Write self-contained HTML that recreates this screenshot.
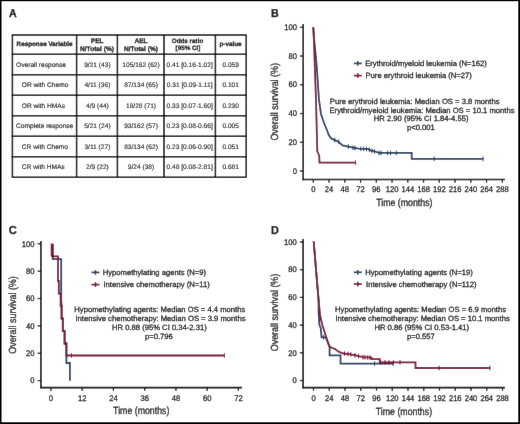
<!DOCTYPE html><html><head><meta charset="utf-8"><style>html,body{margin:0;padding:0;background:#fff}svg{display:block;text-rendering:geometricPrecision}text{font-family:"Liberation Sans",sans-serif;stroke:#111;stroke-width:0.28px}.t{fill:#222;stroke:#222;stroke-width:0.16px}</style></head><body>
<svg width="520" height="424" viewBox="0 0 520 424">
<defs><filter id="bl" x="0" y="0" width="1" height="1" filterUnits="objectBoundingBox"><feConvolveMatrix order="3" kernelMatrix="1 16 1 16 256 16 1 16 1" divisor="324" edgeMode="duplicate"/></filter></defs><g filter="url(#bl)">
<rect x="0" y="0" width="520" height="424" fill="#fff"/>
<text transform="translate(8.90,16.50) scale(0.92,1)" font-size="11.6" text-anchor="start" font-weight="bold" fill="#000">A</text>
<line x1="11.75" y1="35.10" x2="246.65" y2="35.10" stroke="#000" stroke-width="1.5"/>
<line x1="11.75" y1="54.20" x2="246.65" y2="54.20" stroke="#000" stroke-width="1.5"/>
<line x1="11.75" y1="74.72" x2="246.65" y2="74.72" stroke="#000" stroke-width="1.5"/>
<line x1="11.75" y1="95.24" x2="246.65" y2="95.24" stroke="#000" stroke-width="1.5"/>
<line x1="11.75" y1="115.76" x2="246.65" y2="115.76" stroke="#000" stroke-width="1.5"/>
<line x1="11.75" y1="136.28" x2="246.65" y2="136.28" stroke="#000" stroke-width="1.5"/>
<line x1="11.75" y1="156.80" x2="246.65" y2="156.80" stroke="#000" stroke-width="1.5"/>
<line x1="11.75" y1="177.32" x2="246.65" y2="177.32" stroke="#000" stroke-width="1.5"/>
<line x1="12.40" y1="35.10" x2="12.40" y2="177.32" stroke="#000" stroke-width="1.5"/>
<line x1="76.60" y1="35.10" x2="76.60" y2="177.32" stroke="#000" stroke-width="1.5"/>
<line x1="117.40" y1="35.10" x2="117.40" y2="177.32" stroke="#000" stroke-width="1.5"/>
<line x1="164.00" y1="35.10" x2="164.00" y2="177.32" stroke="#000" stroke-width="1.5"/>
<line x1="215.40" y1="35.10" x2="215.40" y2="177.32" stroke="#000" stroke-width="1.5"/>
<line x1="246.20" y1="35.10" x2="246.20" y2="177.32" stroke="#000" stroke-width="1.5"/>
<text x="44.60" y="46.40" font-size="6.3" text-anchor="middle" font-weight="bold" fill="#111" >Response Variable</text>
<text x="97.20" y="42.70" font-size="6.6" text-anchor="middle" font-weight="bold" fill="#111" >PEL</text>
<text x="97.00" y="50.50" font-size="6.6" text-anchor="middle" font-weight="bold" fill="#111" >N/Total (%)</text>
<text x="141.00" y="42.70" font-size="6.6" text-anchor="middle" font-weight="bold" fill="#111" >AEL</text>
<text x="141.00" y="50.50" font-size="6.6" text-anchor="middle" font-weight="bold" fill="#111" >N/Total (%)</text>
<text x="187.50" y="43.30" font-size="6.3" text-anchor="middle" font-weight="bold" fill="#111" >Odds ratio</text>
<text x="188.00" y="50.20" font-size="6.3" text-anchor="middle" font-weight="bold" fill="#111" >[95% CI]</text>
<text x="230.50" y="45.90" font-size="6.3" text-anchor="middle" font-weight="bold" fill="#111" >p-value</text>
<text x="16.10" y="66.50" font-size="6.6" text-anchor="start" font-weight="normal" fill="#111" class="t" >Overall response</text>
<text x="97.40" y="66.50" font-size="6.6" text-anchor="middle" font-weight="normal" fill="#111" class="t" >9/21 (43)</text>
<text x="141.00" y="66.50" font-size="6.6" text-anchor="middle" font-weight="normal" fill="#111" class="t" >105/162 (62)</text>
<text x="189.70" y="66.50" font-size="6.6" text-anchor="middle" font-weight="normal" fill="#111" class="t" >0.41 [0.16-1.02]</text>
<text x="230.70" y="66.50" font-size="6.6" text-anchor="middle" font-weight="normal" fill="#111" class="t" >0.059</text>
<text x="21.80" y="87.02" font-size="6.6" text-anchor="start" font-weight="normal" fill="#111" class="t" >OR with Chemo</text>
<text x="97.40" y="87.02" font-size="6.6" text-anchor="middle" font-weight="normal" fill="#111" class="t" >4/11 (36)</text>
<text x="141.00" y="87.02" font-size="6.6" text-anchor="middle" font-weight="normal" fill="#111" class="t" >87/134 (65)</text>
<text x="189.70" y="87.02" font-size="6.6" text-anchor="middle" font-weight="normal" fill="#111" class="t" >0.31 [0.09-1.11]</text>
<text x="230.70" y="87.02" font-size="6.6" text-anchor="middle" font-weight="normal" fill="#111" class="t" >0.101</text>
<text x="21.80" y="107.54" font-size="6.6" text-anchor="start" font-weight="normal" fill="#111" class="t" >OR with HMAs</text>
<text x="97.40" y="107.54" font-size="6.6" text-anchor="middle" font-weight="normal" fill="#111" class="t" >4/9 (44)</text>
<text x="141.00" y="107.54" font-size="6.6" text-anchor="middle" font-weight="normal" fill="#111" class="t" >18/28 (71)</text>
<text x="189.70" y="107.54" font-size="6.6" text-anchor="middle" font-weight="normal" fill="#111" class="t" >0.33 [0.07-1.60]</text>
<text x="230.70" y="107.54" font-size="6.6" text-anchor="middle" font-weight="normal" fill="#111" class="t" >0.230</text>
<text x="16.10" y="128.06" font-size="6.6" text-anchor="start" font-weight="normal" fill="#111" class="t" >Complete response</text>
<text x="97.40" y="128.06" font-size="6.6" text-anchor="middle" font-weight="normal" fill="#111" class="t" >5/21 (24)</text>
<text x="141.00" y="128.06" font-size="6.6" text-anchor="middle" font-weight="normal" fill="#111" class="t" >93/162 (57)</text>
<text x="189.70" y="128.06" font-size="6.6" text-anchor="middle" font-weight="normal" fill="#111" class="t" >0.23 [0.08-0.66]</text>
<text x="230.70" y="128.06" font-size="6.6" text-anchor="middle" font-weight="normal" fill="#111" class="t" >0.005</text>
<text x="21.80" y="148.58" font-size="6.6" text-anchor="start" font-weight="normal" fill="#111" class="t" >CR with Chemo</text>
<text x="97.40" y="148.58" font-size="6.6" text-anchor="middle" font-weight="normal" fill="#111" class="t" >3/11 (27)</text>
<text x="141.00" y="148.58" font-size="6.6" text-anchor="middle" font-weight="normal" fill="#111" class="t" >83/134 (62)</text>
<text x="189.70" y="148.58" font-size="6.6" text-anchor="middle" font-weight="normal" fill="#111" class="t" >0.23 [0.06-0.90]</text>
<text x="230.70" y="148.58" font-size="6.6" text-anchor="middle" font-weight="normal" fill="#111" class="t" >0.051</text>
<text x="21.80" y="169.10" font-size="6.6" text-anchor="start" font-weight="normal" fill="#111" class="t" >CR with HMAs</text>
<text x="97.40" y="169.10" font-size="6.6" text-anchor="middle" font-weight="normal" fill="#111" class="t" >2/9 (22)</text>
<text x="141.00" y="169.10" font-size="6.6" text-anchor="middle" font-weight="normal" fill="#111" class="t" >9/24 (38)</text>
<text x="189.70" y="169.10" font-size="6.6" text-anchor="middle" font-weight="normal" fill="#111" class="t" >0.48 [0.08-2.81]</text>
<text x="230.70" y="169.10" font-size="6.6" text-anchor="middle" font-weight="normal" fill="#111" class="t" >0.681</text>
<text transform="translate(271.00,16.60) scale(0.92,1)" font-size="11.6" text-anchor="start" font-weight="bold" fill="#000">B</text>
<line x1="303.20" y1="24.00" x2="303.20" y2="180.25" stroke="#000" stroke-width="1.6"/>
<line x1="302.45" y1="179.50" x2="505.00" y2="179.50" stroke="#000" stroke-width="1.6"/>
<line x1="299.90" y1="27.30" x2="303.20" y2="27.30" stroke="#000" stroke-width="1.2"/>
<text transform="translate(296.90,30.00) scale(0.93,1)" font-size="8.2" text-anchor="end" font-weight="normal" fill="#111">100</text>
<line x1="299.90" y1="56.04" x2="303.20" y2="56.04" stroke="#000" stroke-width="1.2"/>
<text transform="translate(296.90,58.74) scale(0.93,1)" font-size="8.2" text-anchor="end" font-weight="normal" fill="#111">80</text>
<line x1="299.90" y1="84.78" x2="303.20" y2="84.78" stroke="#000" stroke-width="1.2"/>
<text transform="translate(296.90,87.48) scale(0.93,1)" font-size="8.2" text-anchor="end" font-weight="normal" fill="#111">60</text>
<line x1="299.90" y1="113.52" x2="303.20" y2="113.52" stroke="#000" stroke-width="1.2"/>
<text transform="translate(296.90,116.22) scale(0.93,1)" font-size="8.2" text-anchor="end" font-weight="normal" fill="#111">40</text>
<line x1="299.90" y1="142.26" x2="303.20" y2="142.26" stroke="#000" stroke-width="1.2"/>
<text transform="translate(296.90,144.96) scale(0.93,1)" font-size="8.2" text-anchor="end" font-weight="normal" fill="#111">20</text>
<line x1="299.90" y1="171.00" x2="303.20" y2="171.00" stroke="#000" stroke-width="1.2"/>
<text transform="translate(296.90,173.70) scale(0.93,1)" font-size="8.2" text-anchor="end" font-weight="normal" fill="#111">0</text>
<line x1="313.30" y1="179.50" x2="313.30" y2="182.80" stroke="#000" stroke-width="1.2"/>
<text transform="translate(313.30,192.40) scale(0.93,1)" font-size="8.2" text-anchor="middle" font-weight="normal" fill="#111">0</text>
<line x1="329.05" y1="179.50" x2="329.05" y2="182.80" stroke="#000" stroke-width="1.2"/>
<text transform="translate(329.05,192.40) scale(0.93,1)" font-size="8.2" text-anchor="middle" font-weight="normal" fill="#111">24</text>
<line x1="344.80" y1="179.50" x2="344.80" y2="182.80" stroke="#000" stroke-width="1.2"/>
<text transform="translate(344.80,192.40) scale(0.93,1)" font-size="8.2" text-anchor="middle" font-weight="normal" fill="#111">48</text>
<line x1="360.55" y1="179.50" x2="360.55" y2="182.80" stroke="#000" stroke-width="1.2"/>
<text transform="translate(360.55,192.40) scale(0.93,1)" font-size="8.2" text-anchor="middle" font-weight="normal" fill="#111">72</text>
<line x1="376.30" y1="179.50" x2="376.30" y2="182.80" stroke="#000" stroke-width="1.2"/>
<text transform="translate(376.30,192.40) scale(0.93,1)" font-size="8.2" text-anchor="middle" font-weight="normal" fill="#111">96</text>
<line x1="392.05" y1="179.50" x2="392.05" y2="182.80" stroke="#000" stroke-width="1.2"/>
<text transform="translate(392.05,192.40) scale(0.93,1)" font-size="8.2" text-anchor="middle" font-weight="normal" fill="#111">120</text>
<line x1="407.80" y1="179.50" x2="407.80" y2="182.80" stroke="#000" stroke-width="1.2"/>
<text transform="translate(407.80,192.40) scale(0.93,1)" font-size="8.2" text-anchor="middle" font-weight="normal" fill="#111">144</text>
<line x1="423.55" y1="179.50" x2="423.55" y2="182.80" stroke="#000" stroke-width="1.2"/>
<text transform="translate(423.55,192.40) scale(0.93,1)" font-size="8.2" text-anchor="middle" font-weight="normal" fill="#111">168</text>
<line x1="439.30" y1="179.50" x2="439.30" y2="182.80" stroke="#000" stroke-width="1.2"/>
<text transform="translate(439.30,192.40) scale(0.93,1)" font-size="8.2" text-anchor="middle" font-weight="normal" fill="#111">192</text>
<line x1="455.05" y1="179.50" x2="455.05" y2="182.80" stroke="#000" stroke-width="1.2"/>
<text transform="translate(455.05,192.40) scale(0.93,1)" font-size="8.2" text-anchor="middle" font-weight="normal" fill="#111">216</text>
<line x1="470.80" y1="179.50" x2="470.80" y2="182.80" stroke="#000" stroke-width="1.2"/>
<text transform="translate(470.80,192.40) scale(0.93,1)" font-size="8.2" text-anchor="middle" font-weight="normal" fill="#111">240</text>
<line x1="486.55" y1="179.50" x2="486.55" y2="182.80" stroke="#000" stroke-width="1.2"/>
<text transform="translate(486.55,192.40) scale(0.93,1)" font-size="8.2" text-anchor="middle" font-weight="normal" fill="#111">264</text>
<line x1="502.30" y1="179.50" x2="502.30" y2="182.80" stroke="#000" stroke-width="1.2"/>
<text transform="translate(502.30,192.40) scale(0.93,1)" font-size="8.2" text-anchor="middle" font-weight="normal" fill="#111">288</text>
<text transform="translate(376.20,205.80) scale(0.845,1)" font-size="10.4" text-anchor="start" font-weight="normal" fill="#111">Time (months)</text>
<text transform="translate(278.30,101.80) rotate(-90) scale(0.862,1)" font-size="10.4" text-anchor="middle" font-weight="normal" fill="#111">Overall survival (%)</text>
<line x1="353.80" y1="63.40" x2="361.80" y2="63.40" stroke="#263f5e" stroke-width="1.7"/>
<line x1="357.80" y1="61.00" x2="357.80" y2="65.80" stroke="#263f5e" stroke-width="1.5"/>
<line x1="353.80" y1="75.60" x2="361.80" y2="75.60" stroke="#7c0a33" stroke-width="1.7"/>
<line x1="357.80" y1="73.20" x2="357.80" y2="78.00" stroke="#7c0a33" stroke-width="1.5"/>
<text x="365.20" y="66.40" font-size="7.65" text-anchor="start" font-weight="normal" fill="#111" >Erythroid/myeloid leukemia (N=162)</text>
<text x="365.50" y="77.90" font-size="7.65" text-anchor="start" font-weight="normal" fill="#111" >Pure erythroid leukemia (N=27)</text>
<text x="329.80" y="103.50" font-size="7.65" text-anchor="start" font-weight="normal" fill="#111" >Pure erythroid leukemia: Median OS = 3.8 months</text>
<text x="329.50" y="112.70" font-size="7.65" text-anchor="start" font-weight="normal" fill="#111" >Erythroid/myeloid leukemia: Median OS = 10.1 months</text>
<text x="373.80" y="121.30" font-size="7.65" text-anchor="start" font-weight="normal" fill="#111" >HR 2.90 (95% CI 1.84-4.55)</text>
<text x="407.00" y="130.40" font-size="7.65" text-anchor="start" font-weight="normal" fill="#111" >p&lt;0.001</text>
<polyline points="313.30,27.30 314.00,38.00 315.00,48.00 316.80,67.00 319.00,100.00 321.00,114.00 324.00,123.00 326.90,130.00 328.80,135.00 331.00,138.30 333.80,139.60 338.70,141.90 342.50,145.40 347.30,146.30 353.00,147.70 358.80,148.70 368.50,149.20 370.40,150.40 375.20,151.50 379.00,152.90 411.70,152.90 411.70,158.90 483.10,158.90" fill="none" stroke="#263f5e" stroke-width="1.8" stroke-linejoin="miter"/>
<line x1="334.80" y1="137.77" x2="334.80" y2="142.37" stroke="#263f5e" stroke-width="1.0"/>
<line x1="338.70" y1="139.60" x2="338.70" y2="144.20" stroke="#263f5e" stroke-width="1.0"/>
<line x1="348.30" y1="144.25" x2="348.30" y2="148.85" stroke="#263f5e" stroke-width="1.0"/>
<line x1="353.00" y1="145.40" x2="353.00" y2="150.00" stroke="#263f5e" stroke-width="1.0"/>
<line x1="355.00" y1="145.74" x2="355.00" y2="150.34" stroke="#263f5e" stroke-width="1.0"/>
<line x1="360.80" y1="146.50" x2="360.80" y2="151.10" stroke="#263f5e" stroke-width="1.0"/>
<line x1="363.70" y1="146.65" x2="363.70" y2="151.25" stroke="#263f5e" stroke-width="1.0"/>
<line x1="366.50" y1="146.80" x2="366.50" y2="151.40" stroke="#263f5e" stroke-width="1.0"/>
<line x1="369.40" y1="147.47" x2="369.40" y2="152.07" stroke="#263f5e" stroke-width="1.0"/>
<line x1="372.00" y1="148.47" x2="372.00" y2="153.07" stroke="#263f5e" stroke-width="1.0"/>
<line x1="374.50" y1="149.04" x2="374.50" y2="153.64" stroke="#263f5e" stroke-width="1.0"/>
<line x1="379.00" y1="150.60" x2="379.00" y2="155.20" stroke="#263f5e" stroke-width="1.0"/>
<line x1="381.00" y1="150.60" x2="381.00" y2="155.20" stroke="#263f5e" stroke-width="1.0"/>
<line x1="387.70" y1="150.60" x2="387.70" y2="155.20" stroke="#263f5e" stroke-width="1.0"/>
<line x1="390.60" y1="150.60" x2="390.60" y2="155.20" stroke="#263f5e" stroke-width="1.0"/>
<line x1="396.30" y1="150.60" x2="396.30" y2="155.20" stroke="#263f5e" stroke-width="1.0"/>
<line x1="434.20" y1="156.60" x2="434.20" y2="161.20" stroke="#263f5e" stroke-width="1.0"/>
<line x1="483.10" y1="156.60" x2="483.10" y2="161.20" stroke="#263f5e" stroke-width="1.0"/>
<polyline points="313.30,27.30 314.30,50.00 314.80,67.00 316.00,100.00 317.30,151.60 319.20,155.40 319.50,162.70 355.60,162.70" fill="none" stroke="#7c0a33" stroke-width="1.8" stroke-linejoin="miter"/>
<line x1="355.60" y1="160.40" x2="355.60" y2="165.00" stroke="#7c0a33" stroke-width="1.0"/>
<text transform="translate(8.80,233.60) scale(0.96,1)" font-size="11.6" text-anchor="start" font-weight="bold" fill="#000">C</text>
<line x1="40.90" y1="241.00" x2="40.90" y2="388.35" stroke="#000" stroke-width="1.6"/>
<line x1="40.15" y1="387.60" x2="242.00" y2="387.60" stroke="#000" stroke-width="1.6"/>
<line x1="37.60" y1="243.80" x2="40.90" y2="243.80" stroke="#000" stroke-width="1.2"/>
<text transform="translate(34.50,246.50) scale(0.93,1)" font-size="8.2" text-anchor="end" font-weight="normal" fill="#111">100</text>
<line x1="37.60" y1="271.16" x2="40.90" y2="271.16" stroke="#000" stroke-width="1.2"/>
<text transform="translate(34.50,273.86) scale(0.93,1)" font-size="8.2" text-anchor="end" font-weight="normal" fill="#111">80</text>
<line x1="37.60" y1="298.52" x2="40.90" y2="298.52" stroke="#000" stroke-width="1.2"/>
<text transform="translate(34.50,301.22) scale(0.93,1)" font-size="8.2" text-anchor="end" font-weight="normal" fill="#111">60</text>
<line x1="37.60" y1="325.88" x2="40.90" y2="325.88" stroke="#000" stroke-width="1.2"/>
<text transform="translate(34.50,328.58) scale(0.93,1)" font-size="8.2" text-anchor="end" font-weight="normal" fill="#111">40</text>
<line x1="37.60" y1="353.24" x2="40.90" y2="353.24" stroke="#000" stroke-width="1.2"/>
<text transform="translate(34.50,355.94) scale(0.93,1)" font-size="8.2" text-anchor="end" font-weight="normal" fill="#111">20</text>
<line x1="37.60" y1="380.60" x2="40.90" y2="380.60" stroke="#000" stroke-width="1.2"/>
<text transform="translate(34.50,383.30) scale(0.93,1)" font-size="8.2" text-anchor="end" font-weight="normal" fill="#111">0</text>
<line x1="50.90" y1="387.60" x2="50.90" y2="390.90" stroke="#000" stroke-width="1.2"/>
<text transform="translate(50.90,401.00) scale(0.93,1)" font-size="8.2" text-anchor="middle" font-weight="normal" fill="#111">0</text>
<line x1="82.15" y1="387.60" x2="82.15" y2="390.90" stroke="#000" stroke-width="1.2"/>
<text transform="translate(82.15,401.00) scale(0.93,1)" font-size="8.2" text-anchor="middle" font-weight="normal" fill="#111">12</text>
<line x1="113.40" y1="387.60" x2="113.40" y2="390.90" stroke="#000" stroke-width="1.2"/>
<text transform="translate(113.40,401.00) scale(0.93,1)" font-size="8.2" text-anchor="middle" font-weight="normal" fill="#111">24</text>
<line x1="144.65" y1="387.60" x2="144.65" y2="390.90" stroke="#000" stroke-width="1.2"/>
<text transform="translate(144.65,401.00) scale(0.93,1)" font-size="8.2" text-anchor="middle" font-weight="normal" fill="#111">36</text>
<line x1="175.90" y1="387.60" x2="175.90" y2="390.90" stroke="#000" stroke-width="1.2"/>
<text transform="translate(175.90,401.00) scale(0.93,1)" font-size="8.2" text-anchor="middle" font-weight="normal" fill="#111">48</text>
<line x1="207.15" y1="387.60" x2="207.15" y2="390.90" stroke="#000" stroke-width="1.2"/>
<text transform="translate(207.15,401.00) scale(0.93,1)" font-size="8.2" text-anchor="middle" font-weight="normal" fill="#111">60</text>
<line x1="238.40" y1="387.60" x2="238.40" y2="390.90" stroke="#000" stroke-width="1.2"/>
<text transform="translate(238.40,401.00) scale(0.93,1)" font-size="8.2" text-anchor="middle" font-weight="normal" fill="#111">72</text>
<text transform="translate(113.10,414.40) scale(0.845,1)" font-size="10.4" text-anchor="start" font-weight="normal" fill="#111">Time (months)</text>
<text transform="translate(16.20,315.00) rotate(-90) scale(0.862,1)" font-size="10.4" text-anchor="middle" font-weight="normal" fill="#111">Overall survival (%)</text>
<line x1="91.50" y1="272.40" x2="99.50" y2="272.40" stroke="#263f5e" stroke-width="1.7"/>
<line x1="95.50" y1="270.00" x2="95.50" y2="274.80" stroke="#263f5e" stroke-width="1.5"/>
<line x1="91.50" y1="284.60" x2="99.50" y2="284.60" stroke="#7c0a33" stroke-width="1.7"/>
<line x1="95.50" y1="282.20" x2="95.50" y2="287.00" stroke="#7c0a33" stroke-width="1.5"/>
<text x="102.70" y="274.50" font-size="7.65" text-anchor="start" font-weight="normal" fill="#111" >Hypomethylating agents (N=9)</text>
<text x="103.50" y="286.60" font-size="7.65" text-anchor="start" font-weight="normal" fill="#111" >Intensive chemotherapy (N=11)</text>
<text x="74.30" y="312.30" font-size="7.65" text-anchor="start" font-weight="normal" fill="#111" >Hypomethylating agents: Median OS = 4.4 months</text>
<text x="75.40" y="321.20" font-size="7.65" text-anchor="start" font-weight="normal" fill="#111" >Intensive chemotherapy: Median OS = 3.9 months</text>
<text x="112.00" y="330.00" font-size="7.65" text-anchor="start" font-weight="normal" fill="#111" >HR 0.88 (95% CI 0.34-2.31)</text>
<text x="145.00" y="339.20" font-size="7.65" text-anchor="start" font-weight="normal" fill="#111" >p=0.796</text>
<polyline points="52.80,244.00 52.80,259.20 61.20,259.20 61.20,300.00 61.60,306.00 61.60,318.50 62.80,318.50 62.80,331.00 64.60,331.00 64.60,343.50 66.40,343.50 66.40,363.00 69.90,363.00 69.90,380.70" fill="none" stroke="#263f5e" stroke-width="1.8" stroke-linejoin="miter"/>
<polyline points="52.00,244.00 52.00,256.40 58.00,256.40 58.00,281.00 58.80,281.00 58.80,293.60 60.60,293.60 60.60,306.00 61.60,306.00 61.60,318.50 62.80,318.50 62.80,331.00 64.60,331.00 64.60,343.50 66.40,343.50 66.40,355.50 224.40,355.50" fill="none" stroke="#7c0a33" stroke-width="1.8" stroke-linejoin="miter"/>
<line x1="52.00" y1="243.50" x2="52.00" y2="256.00" stroke="#7c0a33" stroke-width="2.6"/>
<line x1="52.50" y1="254.10" x2="52.50" y2="258.70" stroke="#7c0a33" stroke-width="1.0"/>
<line x1="71.50" y1="353.20" x2="71.50" y2="357.80" stroke="#7c0a33" stroke-width="1.0"/>
<line x1="224.40" y1="353.20" x2="224.40" y2="357.80" stroke="#7c0a33" stroke-width="1.0"/>
<text transform="translate(271.00,233.60) scale(0.93,1)" font-size="11.6" text-anchor="start" font-weight="bold" fill="#000">D</text>
<line x1="303.10" y1="239.00" x2="303.10" y2="388.35" stroke="#000" stroke-width="1.6"/>
<line x1="302.35" y1="387.60" x2="505.00" y2="387.60" stroke="#000" stroke-width="1.6"/>
<line x1="299.80" y1="242.00" x2="303.10" y2="242.00" stroke="#000" stroke-width="1.2"/>
<text transform="translate(296.70,244.70) scale(0.93,1)" font-size="8.2" text-anchor="end" font-weight="normal" fill="#111">100</text>
<line x1="299.80" y1="269.70" x2="303.10" y2="269.70" stroke="#000" stroke-width="1.2"/>
<text transform="translate(296.70,272.40) scale(0.93,1)" font-size="8.2" text-anchor="end" font-weight="normal" fill="#111">80</text>
<line x1="299.80" y1="297.40" x2="303.10" y2="297.40" stroke="#000" stroke-width="1.2"/>
<text transform="translate(296.70,300.10) scale(0.93,1)" font-size="8.2" text-anchor="end" font-weight="normal" fill="#111">60</text>
<line x1="299.80" y1="325.10" x2="303.10" y2="325.10" stroke="#000" stroke-width="1.2"/>
<text transform="translate(296.70,327.80) scale(0.93,1)" font-size="8.2" text-anchor="end" font-weight="normal" fill="#111">40</text>
<line x1="299.80" y1="352.80" x2="303.10" y2="352.80" stroke="#000" stroke-width="1.2"/>
<text transform="translate(296.70,355.50) scale(0.93,1)" font-size="8.2" text-anchor="end" font-weight="normal" fill="#111">20</text>
<line x1="299.80" y1="380.50" x2="303.10" y2="380.50" stroke="#000" stroke-width="1.2"/>
<text transform="translate(296.70,383.20) scale(0.93,1)" font-size="8.2" text-anchor="end" font-weight="normal" fill="#111">0</text>
<line x1="313.50" y1="387.60" x2="313.50" y2="390.90" stroke="#000" stroke-width="1.2"/>
<text transform="translate(313.50,400.70) scale(0.93,1)" font-size="8.2" text-anchor="middle" font-weight="normal" fill="#111">0</text>
<line x1="329.25" y1="387.60" x2="329.25" y2="390.90" stroke="#000" stroke-width="1.2"/>
<text transform="translate(329.25,400.70) scale(0.93,1)" font-size="8.2" text-anchor="middle" font-weight="normal" fill="#111">24</text>
<line x1="345.00" y1="387.60" x2="345.00" y2="390.90" stroke="#000" stroke-width="1.2"/>
<text transform="translate(345.00,400.70) scale(0.93,1)" font-size="8.2" text-anchor="middle" font-weight="normal" fill="#111">48</text>
<line x1="360.75" y1="387.60" x2="360.75" y2="390.90" stroke="#000" stroke-width="1.2"/>
<text transform="translate(360.75,400.70) scale(0.93,1)" font-size="8.2" text-anchor="middle" font-weight="normal" fill="#111">72</text>
<line x1="376.50" y1="387.60" x2="376.50" y2="390.90" stroke="#000" stroke-width="1.2"/>
<text transform="translate(376.50,400.70) scale(0.93,1)" font-size="8.2" text-anchor="middle" font-weight="normal" fill="#111">96</text>
<line x1="392.25" y1="387.60" x2="392.25" y2="390.90" stroke="#000" stroke-width="1.2"/>
<text transform="translate(392.25,400.70) scale(0.93,1)" font-size="8.2" text-anchor="middle" font-weight="normal" fill="#111">120</text>
<line x1="408.00" y1="387.60" x2="408.00" y2="390.90" stroke="#000" stroke-width="1.2"/>
<text transform="translate(408.00,400.70) scale(0.93,1)" font-size="8.2" text-anchor="middle" font-weight="normal" fill="#111">144</text>
<line x1="423.75" y1="387.60" x2="423.75" y2="390.90" stroke="#000" stroke-width="1.2"/>
<text transform="translate(423.75,400.70) scale(0.93,1)" font-size="8.2" text-anchor="middle" font-weight="normal" fill="#111">168</text>
<line x1="439.50" y1="387.60" x2="439.50" y2="390.90" stroke="#000" stroke-width="1.2"/>
<text transform="translate(439.50,400.70) scale(0.93,1)" font-size="8.2" text-anchor="middle" font-weight="normal" fill="#111">192</text>
<line x1="455.25" y1="387.60" x2="455.25" y2="390.90" stroke="#000" stroke-width="1.2"/>
<text transform="translate(455.25,400.70) scale(0.93,1)" font-size="8.2" text-anchor="middle" font-weight="normal" fill="#111">216</text>
<line x1="471.00" y1="387.60" x2="471.00" y2="390.90" stroke="#000" stroke-width="1.2"/>
<text transform="translate(471.00,400.70) scale(0.93,1)" font-size="8.2" text-anchor="middle" font-weight="normal" fill="#111">240</text>
<line x1="486.75" y1="387.60" x2="486.75" y2="390.90" stroke="#000" stroke-width="1.2"/>
<text transform="translate(486.75,400.70) scale(0.93,1)" font-size="8.2" text-anchor="middle" font-weight="normal" fill="#111">264</text>
<line x1="502.50" y1="387.60" x2="502.50" y2="390.90" stroke="#000" stroke-width="1.2"/>
<text transform="translate(502.50,400.70) scale(0.93,1)" font-size="8.2" text-anchor="middle" font-weight="normal" fill="#111">288</text>
<text transform="translate(375.80,414.50) scale(0.845,1)" font-size="10.4" text-anchor="start" font-weight="normal" fill="#111">Time (months)</text>
<text transform="translate(278.20,312.50) rotate(-90) scale(0.862,1)" font-size="10.4" text-anchor="middle" font-weight="normal" fill="#111">Overall survival (%)</text>
<line x1="353.80" y1="272.30" x2="361.80" y2="272.30" stroke="#263f5e" stroke-width="1.7"/>
<line x1="357.80" y1="269.90" x2="357.80" y2="274.70" stroke="#263f5e" stroke-width="1.5"/>
<line x1="353.80" y1="284.10" x2="361.80" y2="284.10" stroke="#7c0a33" stroke-width="1.7"/>
<line x1="357.80" y1="281.70" x2="357.80" y2="286.50" stroke="#7c0a33" stroke-width="1.5"/>
<text x="365.20" y="275.00" font-size="7.65" text-anchor="start" font-weight="normal" fill="#111" >Hypomethylating agents (N=19)</text>
<text x="366.10" y="287.30" font-size="7.65" text-anchor="start" font-weight="normal" fill="#111" >Intensive chemotherapy (N=112)</text>
<text x="335.10" y="312.40" font-size="7.65" text-anchor="start" font-weight="normal" fill="#111" >Hypomethylating agents: Median OS = 6.9 months</text>
<text x="335.40" y="321.30" font-size="7.65" text-anchor="start" font-weight="normal" fill="#111" >Intensive chemotherapy: Median OS = 10.1 months</text>
<text x="374.40" y="329.90" font-size="7.65" text-anchor="start" font-weight="normal" fill="#111" >HR 0.86 (95% CI 0.53-1.41)</text>
<text x="407.00" y="338.50" font-size="7.65" text-anchor="start" font-weight="normal" fill="#111" >p=0.557</text>
<polyline points="313.70,241.50 316.70,277.70 318.60,300.00 318.60,312.40 319.40,324.80 320.70,328.00 321.60,337.40 325.80,337.40 329.60,346.90 329.60,355.40 340.50,355.40 340.50,363.60 393.00,363.60" fill="none" stroke="#263f5e" stroke-width="1.8" stroke-linejoin="miter"/>
<line x1="323.50" y1="335.10" x2="323.50" y2="339.70" stroke="#263f5e" stroke-width="1.0"/>
<line x1="374.60" y1="361.30" x2="374.60" y2="365.90" stroke="#263f5e" stroke-width="1.0"/>
<line x1="393.00" y1="361.30" x2="393.00" y2="365.90" stroke="#263f5e" stroke-width="1.0"/>
<polyline points="313.70,241.50 316.70,277.70 318.60,300.40 320.30,316.50 322.30,324.80 326.30,337.40 329.20,346.00 331.50,347.80 334.80,348.80 338.60,351.60 343.30,353.50 349.20,354.20 355.40,355.40 363.00,357.20 371.50,357.70 371.50,359.20 379.70,359.20 379.70,362.30 415.50,362.30 415.50,368.00 490.00,368.00" fill="none" stroke="#7c0a33" stroke-width="1.8" stroke-linejoin="miter"/>
<line x1="344.60" y1="351.35" x2="344.60" y2="355.95" stroke="#7c0a33" stroke-width="1.0"/>
<line x1="348.00" y1="351.76" x2="348.00" y2="356.36" stroke="#7c0a33" stroke-width="1.0"/>
<line x1="350.80" y1="352.21" x2="350.80" y2="356.81" stroke="#7c0a33" stroke-width="1.0"/>
<line x1="355.00" y1="353.02" x2="355.00" y2="357.62" stroke="#7c0a33" stroke-width="1.0"/>
<line x1="358.50" y1="353.83" x2="358.50" y2="358.43" stroke="#7c0a33" stroke-width="1.0"/>
<line x1="363.00" y1="354.90" x2="363.00" y2="359.50" stroke="#7c0a33" stroke-width="1.0"/>
<line x1="365.00" y1="355.02" x2="365.00" y2="359.62" stroke="#7c0a33" stroke-width="1.0"/>
<line x1="367.70" y1="355.18" x2="367.70" y2="359.78" stroke="#7c0a33" stroke-width="1.0"/>
<line x1="370.00" y1="355.31" x2="370.00" y2="359.91" stroke="#7c0a33" stroke-width="1.0"/>
<line x1="380.60" y1="360.00" x2="380.60" y2="364.60" stroke="#7c0a33" stroke-width="1.0"/>
<line x1="385.00" y1="360.00" x2="385.00" y2="364.60" stroke="#7c0a33" stroke-width="1.0"/>
<line x1="389.00" y1="360.00" x2="389.00" y2="364.60" stroke="#7c0a33" stroke-width="1.0"/>
<line x1="393.50" y1="360.00" x2="393.50" y2="364.60" stroke="#7c0a33" stroke-width="1.0"/>
<line x1="400.00" y1="360.00" x2="400.00" y2="364.60" stroke="#7c0a33" stroke-width="1.0"/>
<line x1="439.20" y1="365.70" x2="439.20" y2="370.30" stroke="#7c0a33" stroke-width="1.0"/>
<line x1="490.00" y1="365.70" x2="490.00" y2="370.30" stroke="#7c0a33" stroke-width="1.0"/>
</g><rect x="0" y="0" width="520" height="1.2" fill="#000"/><rect x="0" y="0" width="1.5" height="424" fill="#000"/><rect x="518.3" y="0" width="1.7" height="424" fill="#000"/><rect x="0" y="422.3" width="520" height="1.7" fill="#000"/></svg></body></html>
